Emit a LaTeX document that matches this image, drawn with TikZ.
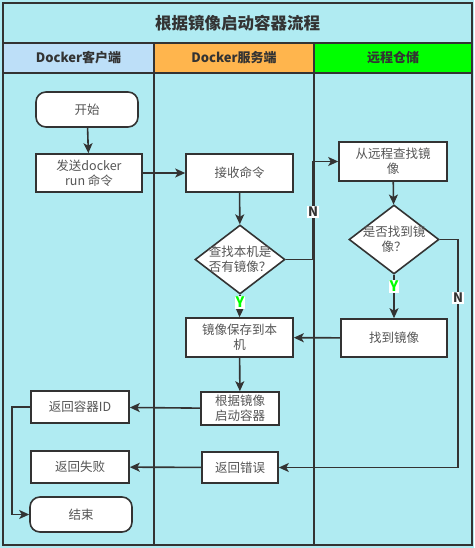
\documentclass[tikz,border=0pt]{standalone}
\usepackage{fontspec}
\setmainfont{Noto Sans CJK SC}
\usetikzlibrary{shapes.geometric,arrows.meta}
\definecolor{bgc}{HTML}{B0EBF2}
\definecolor{linec}{HTML}{333333}
\definecolor{txtc}{HTML}{555555}
\definecolor{hclient}{HTML}{BDDFF8}
\definecolor{hserver}{HTML}{FFB54D}
\definecolor{hremote}{HTML}{00FF00}
\tikzset{
  proc/.style={draw=linec, line width=1.6pt, fill=white, text=txtc, font=\fontsize{12.5}{15}\selectfont, align=center, inner sep=0pt},
  term/.style={proc, rounded corners=10pt},
  dec/.style={draw=linec, line width=1.6pt, fill=white, text=txtc, font=\fontsize{12.5}{15}\selectfont, align=center, diamond, aspect=1.3, inner sep=-4pt, minimum width=90pt, minimum height=69pt},
  arr/.style={draw=linec, line width=1.6pt, -{Stealth[length=10pt,width=9pt,inset=2.5pt]}},
  lab/.style={fill=white, font=\bfseries\fontsize{13}{15}\selectfont, inner sep=1pt},
  ylab/.style={fill=white, text=hremote, font=\bfseries\fontsize{14.5}{15}\selectfont, inner xsep=0.5pt, inner ysep=1.5pt},
  hdr/.style={text=linec, font=\bfseries\fontsize{13}{15}\selectfont},
  frame/.style={draw=linec, line width=1.8pt}
}
\begin{document}
\begin{tikzpicture}[x=1pt,y=-1pt]
\useasboundingbox (0,0) rectangle (474,548);
\fill[bgc] (0,0) rectangle (474,548);
% headers
\fill[hclient] (3,43) rectangle (154,73);
\fill[hserver] (154,43) rectangle (314,73);
\fill[hremote] (314,43) rectangle (472,73);
\draw[frame] (3,3) rectangle (472,545);
\draw[frame] (3,43) -- (472,43);
\draw[frame] (3,73) -- (472,73);
\draw[frame] (154,43) -- (154,545);
\draw[frame] (314,43) -- (314,545);
\node[text=linec, font=\bfseries\fontsize{16.5}{18}\selectfont] (title) at (237.5,23) {根据镜像启动容器流程};
\node[hdr] (h1) at (78.5,58) {Docker客户端};
\node[hdr] (h2) at (234,58) {Docker服务端};
\node[hdr] (h3) at (393,58) {远程仓储};
% nodes
\node[term, minimum width=102pt, minimum height=35pt] (start) at (87,109.5) {开始};
\node[proc, minimum width=106pt, minimum height=38pt] (send) at (89,173) {发送docker\\run 命令};
\node[proc, minimum width=107pt, minimum height=38pt] (recv) at (239.5,173) {接收命令};
\node[dec] (d1) at (240,259.5) {查找本机是\\否有镜像？};
\node[proc, minimum width=107pt, minimum height=39pt] (save) at (239.5,337.5) {镜像保存到本\\机};
\node[proc, minimum width=78pt, minimum height=33pt] (run) at (240,408.5) {根据镜像\\启动容器};
\node[proc, minimum width=76pt, minimum height=31pt] (err) at (240,467.5) {返回错误};
\node[proc, minimum width=108pt, minimum height=39pt] (rfind) at (393,161.5) {从远程查找镜\\像};
\node[dec] (d2) at (394,239.5) {是否找到镜\\像？};
\node[proc, minimum width=106pt, minimum height=38pt] (found) at (394,338) {找到镜像};
\node[proc, minimum width=98pt, minimum height=32pt] (rid) at (80,407) {返回容器ID};
\node[proc, minimum width=98pt, minimum height=32pt] (fail) at (80,467) {返回失败};
\node[term, minimum width=102pt, minimum height=35pt] (end) at (81,514.5) {结束};
\coordinate (k1) at (313,0);
\coordinate (k2) at (458,0);
\coordinate (k3) at (12,0);
% connectors
\draw[arr] (start) -- (send);
\draw[arr] (send) -- (recv);
\draw[arr] (recv) -- (d1);
\draw[arr] (d1.east) -| (k1 |- rfind.west) -- (rfind.west);
\node[lab, text=linec] (n1) at (313,212) {N};
\draw[arr] (d1.south) -- (save.north);
\node[ylab] (y1) at (240,302.5) {Y};
\draw[arr] (rfind) -- (d2);
\draw[arr] (d2.south) -- (found.north);
\node[ylab] (y2) at (394,286.5) {Y};
\draw[arr] (d2.east) -| (k2 |- err.east) -- (err.east);
\node[lab, text=linec] (n2) at (458,298) {N};
\draw[arr] (found) -- (save);
\draw[arr] (save) -- (run);
\draw[arr] (run) -- (rid);
\draw[arr] (err) -- (fail);
\draw[arr] (rid.west) -| (k3 |- end.west) -- (end.west);
\end{tikzpicture}
\end{document}
